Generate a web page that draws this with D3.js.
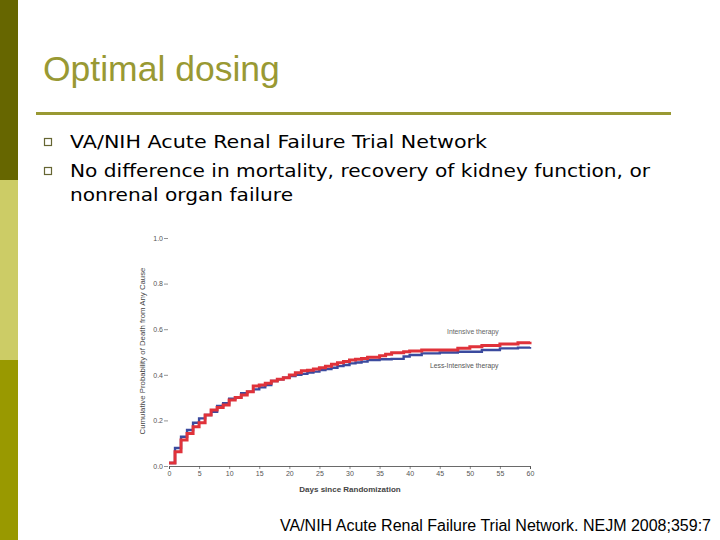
<!DOCTYPE html>
<html>
<head>
<meta charset="utf-8">
<script src="https://cdn.jsdelivr.net/npm/d3@7"></script>
<style>
  body { margin: 0; background: #fff; }
  svg { display: block; }
</style>
</head>
<body>
<svg id="svg"></svg>
<script>
// values
const days = [0,1,2,3,4,5,6,7,8,9,10,11,12,13,14,15,16,17,18,19,20,21,22,23,24,25,26,27,28,29,30,31,32,33,35,36,37,39,40,42,45,48,50,52,55,58,60];
const intensive = [0.013,0.063,0.114,0.143,0.172,0.19,0.224,0.246,0.257,0.267,0.29,0.30,0.311,0.326,0.351,0.355,0.363,0.373,0.38,0.387,0.399,0.409,0.418,0.42,0.425,0.431,0.438,0.446,0.453,0.458,0.465,0.468,0.472,0.477,0.484,0.49,0.497,0.501,0.504,0.509,0.509,0.516,0.523,0.528,0.535,0.541,0.545];
const lessIntensive = [0.013,0.079,0.128,0.158,0.19,0.209,0.224,0.238,0.263,0.275,0.295,0.30,0.319,0.326,0.336,0.345,0.355,0.373,0.38,0.387,0.395,0.40,0.404,0.41,0.414,0.421,0.425,0.431,0.438,0.443,0.45,0.454,0.458,0.465,0.468,0.468,0.47,0.48,0.487,0.494,0.498,0.501,0.501,0.509,0.516,0.519,0.522];
const xTicks = [0,5,10,15,20,25,30,35,40,45,50,55,60];
const yTicks = [0, 0.2, 0.4, 0.6, 0.8, 1.0];
const bulletLines = [
  { text: "VA/NIH Acute Renal Failure Trial Network", bullet: true, width: 417 },
  { text: "No difference in mortality, recovery of kidney function, or", bullet: true, width: 580 },
  { text: "nonrenal organ failure", bullet: false, width: 223 }
];

const svg = d3.select("#svg").attr("width", 720).attr("height", 540);

// slide side bar
svg.append("rect").attr("x", 0).attr("y", 0).attr("width", 18).attr("height", 180).attr("fill", "#666600");
svg.append("rect").attr("x", 0).attr("y", 180).attr("width", 18).attr("height", 180).attr("fill", "#cccc66");
svg.append("rect").attr("x", 0).attr("y", 360).attr("width", 18).attr("height", 180).attr("fill", "#999900");

// title
svg.append("text")
  .attr("x", 43).attr("y", 81)
  .attr("font-family", "Liberation Sans, Arial, sans-serif")
  .attr("font-size", 35.5)
  .attr("fill", "#999933")
  .text("Optimal dosing");

svg.append("rect").attr("x", 36).attr("y", 112).attr("width", 635).attr("height", 3).attr("fill", "#999933");

// bullets
const lineYs = [148, 177, 201];
bulletLines.forEach((l, i) => {
  if (l.bullet) {
    svg.append("rect")
      .attr("x", 44.5).attr("y", lineYs[i] - 9.5)
      .attr("width", 7).attr("height", 7)
      .attr("fill", "none").attr("stroke", "#666633").attr("stroke-width", 1.2);
  }
  svg.append("text")
    .attr("x", 70).attr("y", lineYs[i])
    .attr("font-family", "DejaVu Sans, Verdana, sans-serif")
    .attr("font-size", 18)
    .attr("textLength", l.width)
    .attr("lengthAdjust", "spacingAndGlyphs")
    .attr("fill", "#000")
    .text(l.text);
});

// chart
const x = d3.scaleLinear().domain([0, 60]).range([169, 530]);
const y = d3.scaleLinear().domain([0, 1]).range([466, 238]);

const tickFont = "Liberation Sans, Arial, sans-serif";

const xAxis = svg.append("g")
  .attr("transform", "translate(0,466)")
  .call(d3.axisBottom(x).tickValues(xTicks).tickSize(3).tickPadding(2).tickFormat(d3.format("d")));
xAxis.select(".domain").attr("stroke", "#444").attr("stroke-width", 0.8);
xAxis.selectAll(".tick line").attr("stroke", "#444").attr("stroke-width", 0.6);
xAxis.selectAll("text").attr("font-size", 7).attr("font-family", tickFont).attr("fill", "#555");

const yAxis = svg.append("g")
  .attr("transform", "translate(168,0)")
  .call(d3.axisLeft(y).tickValues(yTicks).tickSize(4).tickPadding(1).tickFormat(d3.format(".1f")));
yAxis.select(".domain").remove();
yAxis.selectAll(".tick line").attr("stroke", "#666").attr("stroke-width", 0.7);
yAxis.selectAll("text").attr("font-size", 7).attr("font-family", tickFont).attr("fill", "#555");

svg.append("text")
  .attr("x", 350).attr("y", 492)
  .attr("text-anchor", "middle")
  .attr("font-family", tickFont)
  .attr("font-size", 8)
  .attr("font-weight", "bold")
  .attr("fill", "#444")
  .text("Days since Randomization");

svg.append("text")
  .attr("transform", "translate(145,351) rotate(-90)")
  .attr("text-anchor", "middle")
  .attr("font-family", tickFont)
  .attr("font-size", 7.8)
  .attr("fill", "#444")
  .text("Cumulative Probability of Death from Any Cause");

const line = d3.line()
  .x(d => x(d[0]))
  .y(d => y(d[1]))
  .curve(d3.curveStepAfter);

svg.append("path")
  .datum(days.map((d, i) => [d, lessIntensive[i]]))
  .attr("d", line)
  .attr("fill", "none")
  .attr("stroke", "#3b4a9e")
  .attr("stroke-width", 2.4);

svg.append("path")
  .datum(days.map((d, i) => [d, intensive[i]]))
  .attr("d", line)
  .attr("fill", "none")
  .attr("stroke", "#e0323a")
  .attr("stroke-width", 3);

svg.append("text")
  .attr("x", 447).attr("y", 334)
  .attr("font-family", tickFont).attr("font-size", 6.8).attr("fill", "#666")
  .text("Intensive therapy");
svg.append("text")
  .attr("x", 430).attr("y", 368)
  .attr("font-family", tickFont).attr("font-size", 6.8).attr("fill", "#555")
  .text("Less-Intensive therapy");

// citation
svg.append("text")
  .attr("x", 280).attr("y", 531)
  .attr("font-family", "Liberation Sans, Arial, sans-serif")
  .attr("font-size", 16)
  .attr("fill", "#000")
  .text("VA/NIH Acute Renal Failure Trial Network. NEJM 2008;359:7");
</script>
</body>
</html>
